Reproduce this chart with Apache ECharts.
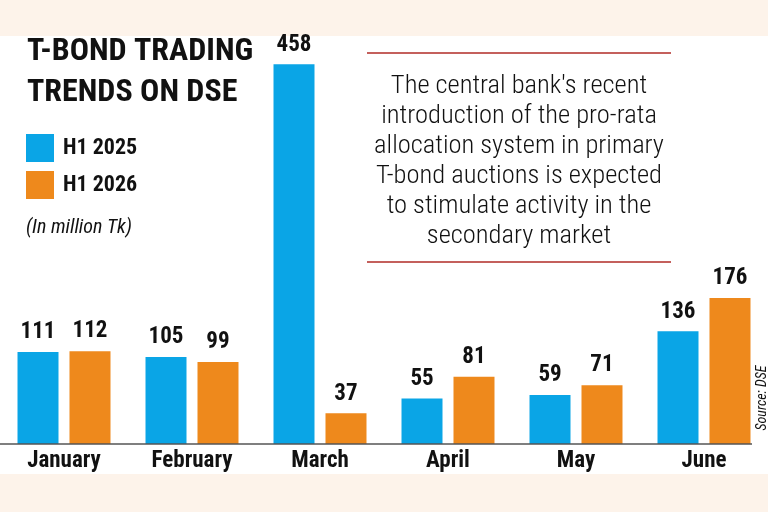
<!DOCTYPE html>
<html>
<head>
<meta charset="utf-8">
<style>html,body{margin:0;padding:0;background:#fdf3ea;}#c{width:768px;height:512px;}</style>
<script src="https://cdn.jsdelivr.net/npm/echarts@6/dist/echarts.min.js"></script>
</head>
<body>
<div id="c"></div>
<script>
const categories = ['January', 'February', 'March', 'April', 'May', 'June'];
const h1_2025 = [111, 105, 458, 55, 59, 136];
const h1_2026 = [112, 99, 37, 81, 71, 176];
const seriesNames = ['H1 2025', 'H1 2026'];
const titleLines = ['T-BOND TRADING', 'TRENDS ON DSE'];
const unitText = '(In million Tk)';
const noteLines = ['The central bank\'s recent', 'introduction of the pro-rata', 'allocation system in primary', 'T-bond auctions is expected', 'to stimulate activity in the', 'secondary market'];
const sourceText = 'Source: DSE';

const COND = '"Roboto Condensed", "Liberation Sans Narrow", "DejaVu Sans Condensed", "Open Sans", sans-serif';
const BLUE = '#0aa5e6', ORANGE = '#ee891c';

const chart = echarts.init(document.getElementById('c'), null, {renderer: 'canvas'});
const labelStyle = {show: true, position: 'top', distance: 8, color: '#111', fontFamily: COND, fontWeight: 'bold', fontSize: 23};
chart.setOption({
  backgroundColor: '#fdf3ea',
  animation: false,
  grid: {left: 0, right: 0, top: 29.5, bottom: 68},
  xAxis: {
    type: 'category', data: categories,
    axisLine: {show: false}, axisTick: {show: false},
    axisLabel: {color: '#111', fontFamily: COND, fontWeight: 'bold', fontSize: 23, margin: 6}
  },
  yAxis: {type: 'value', min: 0, max: 500, show: false, splitLine: {show: false}},
  legend: {
    orient: 'vertical', left: 26, top: 134, itemWidth: 28, itemHeight: 28, itemGap: 9,
    icon: 'rect', padding: 0,
    textStyle: {color: '#111', fontFamily: COND, fontWeight: 'bold', fontSize: 22, padding: [0, 0, 0, 4]},
    data: seriesNames
  },
  graphic: [
    {type: 'rect', z: -10, silent: true, shape: {x: 0, y: 36, width: 768, height: 438}, style: {fill: '#ffffff'}},
    {type: 'line', z: 10, shape: {x1: 0, y1: 444, x2: 752, y2: 444}, style: {stroke: '#555', lineWidth: 1.5}},
    {type: 'text', x: 27, y: 52, style: {text: titleLines[0], fill: '#111', font: 'bold 32px ' + COND, verticalAlign: 'middle'}},
    {type: 'text', x: 27, y: 93, style: {text: titleLines[1], fill: '#111', font: 'bold 32px ' + COND, verticalAlign: 'middle'}},
    {type: 'text', x: 26, y: 228, style: {text: unitText, fill: '#111', font: 'italic 20px ' + COND, verticalAlign: 'middle'}},
    {type: 'line', shape: {x1: 367, y1: 53, x2: 671, y2: 53}, style: {stroke: '#c4605c', lineWidth: 2}},
    {type: 'line', shape: {x1: 367, y1: 262, x2: 671, y2: 262}, style: {stroke: '#c4605c', lineWidth: 2}},
    {type: 'text', x: 519, y: 71, style: {text: noteLines.join('\n'), fill: '#111', font: '300 26.5px ' + COND, align: 'center', verticalAlign: 'top', lineHeight: 30}},
    {type: 'text', x: 762, y: 398, rotation: Math.PI / 2, style: {text: sourceText, fill: '#111', font: 'italic 14px ' + COND, align: 'center', verticalAlign: 'middle'}}
  ],
  series: [
    {name: seriesNames[0], type: 'bar', data: h1_2025, barWidth: 41, barGap: '26.8%', itemStyle: {color: BLUE}, label: labelStyle},
    {name: seriesNames[1], type: 'bar', data: h1_2026, barWidth: 41, barGap: '26.8%', itemStyle: {color: ORANGE}, label: labelStyle}
  ]
});
</script>
</body>
</html>
